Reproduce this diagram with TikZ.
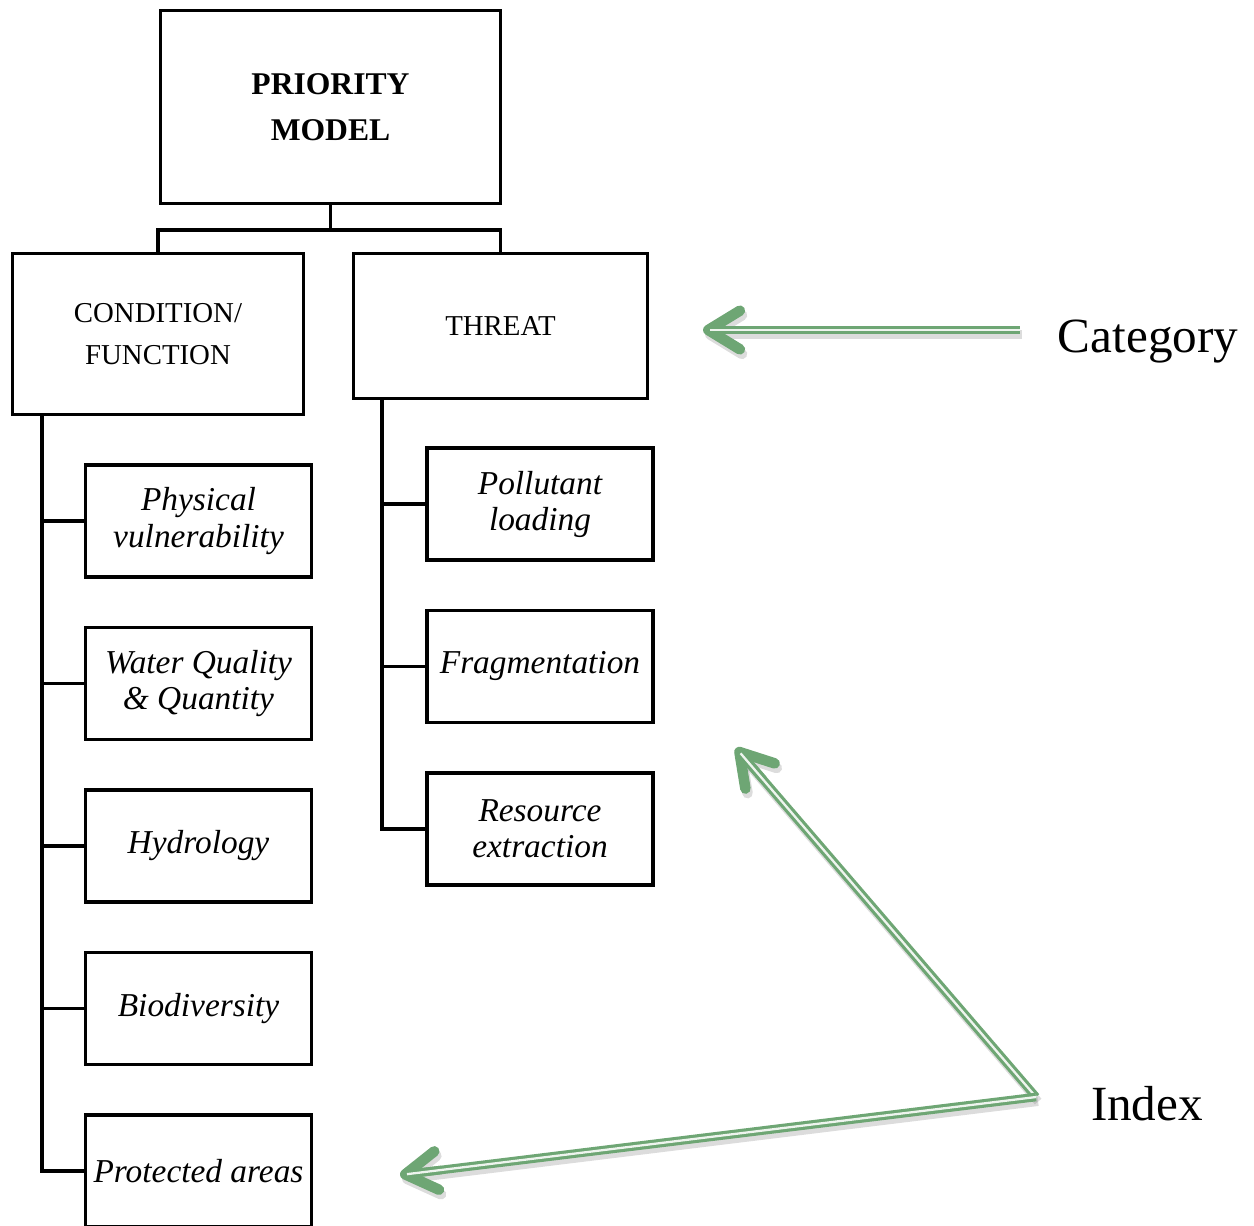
\documentclass[tikz,border=0pt]{standalone}
\usepackage{fontspec}
\setmainfont{Liberation Serif}
\usepackage{tikz}
\usetikzlibrary{
    arrows.meta,
    positioning,
    calc
}
\definecolor{Gmid}{RGB}{110, 166, 116}
\definecolor{Gshade}{RGB}{140, 140, 140}
\tikzset{
    tbox/.style={
        rectangle, draw=black, line width=2pt, fill=white,
        align=center, inner sep=2pt
    },
    rootbox/.style={
        tbox, minimum width=6.8cm, minimum height=3.86cm,
        font=\fontsize{18}{26}\selectfont\bfseries
    },
    catbox/.style={
        tbox, font=\fontsize{16.4}{24}\selectfont
    },
    idxbox/.style={
        tbox, minimum width=4.52cm, minimum height=2.24cm,
        font=\fontsize{19}{20.5}\selectfont\itshape
    },
    tline/.style={line width=2pt, draw=black},
    gshaft/.style={draw=Gmid, line width=1.8pt, double=white!88!Gmid, double distance=1.3pt, shorten >=4pt},
    ghead/.style={draw=Gmid, line width=4.9pt, -{Straight Barb[length=18pt, width=22pt, line width=6pt, round]}},
    gshadow/.style={draw=Gshade, opacity=0.3, line width=5pt, transform canvas={shift={(1.2pt,-2.6pt)}},
        -{Straight Barb[length=18pt, width=22pt, line width=6pt, round]}},
    clabel/.style={font=\fontsize{28}{30}\selectfont, anchor=base, inner sep=0pt},
}

\begin{document}
\begin{tikzpicture}[x=0.02cm, y=-0.02cm]

    \useasboundingbox (0,0) rectangle (1254,1225);

    % top and categories
    \node [rootbox] (prio) at (330.5,107) {PRIORITY\\MODEL};
    \node [catbox, minimum width=5.82cm, minimum height=3.22cm]
        (cond) at (158,334) {CONDITION/\\FUNCTION};
    \node [catbox, minimum width=5.88cm, minimum height=2.9cm]
        (threat) at (500.5,326) {THREAT};

    % indices, condition side
    \node [idxbox] (phys) at (198.5,521) {Physical\\vulnerability};
    \node [idxbox, below=0.94cm of phys] (water) {Water Quality\\\& Quantity};
    \node [idxbox, below=0.94cm of water] (hydro) {Hydrology};
    \node [idxbox, below=0.94cm of hydro] (bio) {Biodiversity};
    \node [idxbox, below=0.94cm of bio] (prot) {Protected areas};

    % indices, threat side
    \node [idxbox] (poll) at (540,504) {Pollutant\\loading};
    \node [idxbox, below=0.94cm of poll] (frag) {Fragmentation};
    \node [idxbox, below=0.94cm of frag] (resx) {Resource\\extraction};

    % tree lines
    \draw [tline] (prio.south) -- ++(0,25) coordinate (bar);
    \draw [tline] (cond.north) |- (bar) -| (threat.north);

    \coordinate (lsp) at ([xshift=0.62cm]cond.south west);
    \draw [tline] (lsp) |- (prot.west);
    \foreach \n in {phys,water,hydro,bio}
        \draw [tline] (\n.west) -- (\n.west -| lsp);

    \coordinate (rsp) at ([xshift=0.6cm]threat.south west);
    \draw [tline] (rsp) |- (resx.west);
    \foreach \n in {poll,frag}
        \draw [tline] (\n.west) -- (\n.west -| rsp);

    % labels and green arrows
    \node [clabel] (cat) at (1148,352) {Category};
    \node [clabel] (idx) at (1147,1120) {Index};

    \coordinate (catfrom) at (1020,330);
    \coordinate (catto) at (703,330);
    \coordinate (idxfrom) at (1036,1097);
    \coordinate (idxup) at (736,748);
    \coordinate (idxlow) at (400,1175);

    \draw [gshadow] (catfrom) -- (catto);
    \draw [gshadow] (idxfrom) -- (idxup);
    \draw [gshadow] (idxfrom) -- (idxlow);

    \draw [ghead] ($(catto)!24pt!(catfrom)$) -- (catto);
    \draw [ghead] ($(idxup)!24pt!(idxfrom)$) -- (idxup);
    \draw [ghead] ($(idxlow)!24pt!(idxfrom)$) -- (idxlow);

    \draw [gshaft] (catfrom) -- (catto);
    \draw [gshaft] (idxfrom) -- (idxup);
    \draw [gshaft] (idxfrom) -- (idxlow);

\end{tikzpicture}
\end{document}
